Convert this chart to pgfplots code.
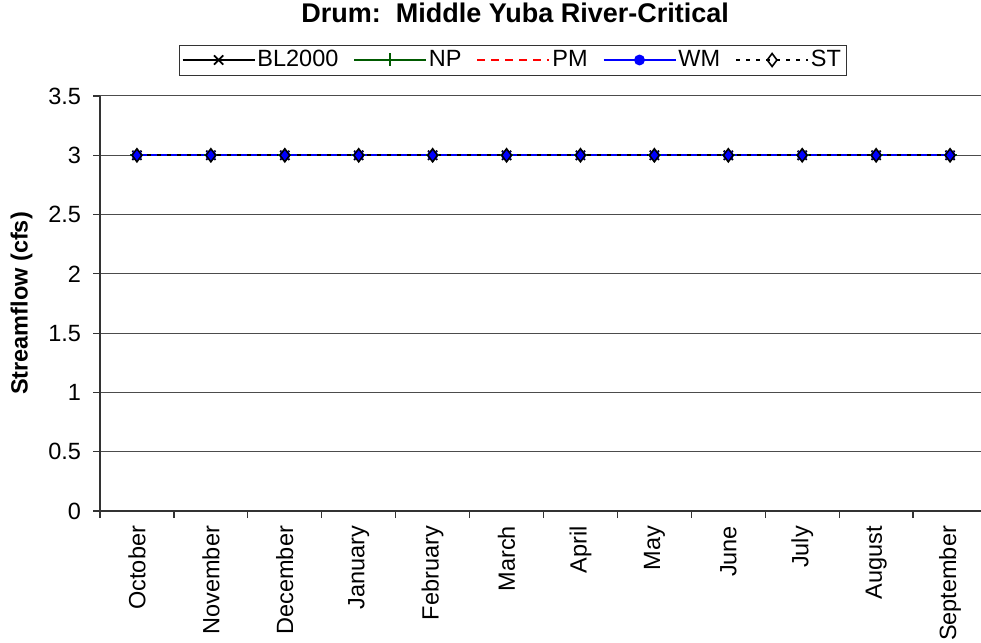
\documentclass[border=0pt]{standalone}
\usepackage{pgfplots}
\pgfplotsset{compat=1.18}
\usepackage{fontspec}
\setmainfont{Liberation Sans}
\definecolor{npgreen}{RGB}{0,90,0}
\begin{document}
\fontsize{23.5bp}{27bp}\selectfont
\begin{tikzpicture}
\useasboundingbox (0bp,0bp) rectangle (981bp,643bp);
\begin{axis}[
  scale only axis, width=887bp, height=415bp,
  at={(100bp,132bp)}, anchor=south west,
  xmin=0, xmax=12, ymin=0, ymax=3.5,
  axis x line*=bottom, axis y line*=left,
  axis line style={black!80, line width=1.2bp},
  ytick={0,0.5,...,3.5},
  yticklabels={0,0.5,1,1.5,2,2.5,3,3.5},
  ymajorgrids, grid style={black!70, line width=1bp},
  tick align=outside, major tick length=7bp, minor tick length=7bp,
  tick style={black!80, line width=1.2bp},
  xtick={0.5,1.5,...,11.5},
  xticklabels={October,November,December,January,February,March,April,May,June,July,August,September},
  major x tick style={draw=none},
  minor xtick={0,1,...,12},
  x tick label style={rotate=90, anchor=east, font=\fontsize{23.5bp}{27bp}\selectfont},
  y tick label style={font=\fontsize{23.5bp}{27bp}\selectfont, xshift=-4bp},
  /pgf/number format/assume math mode=true,
  ylabel={\bfseries Streamflow (cfs)},
  ylabel style={font=\fontsize{23.5bp}{27bp}\selectfont},
  title={\bfseries Drum:\ \ Middle Yuba River-Critical},
  title style={font=\fontsize{27bp}{30bp}\selectfont, at={(axis description cs:0.468,1)}, yshift=68bp, anchor=base},
  legend columns=5,
  legend style={at={(axis description cs:0.465,1)}, anchor=center, yshift=36bp,
    draw=black!80, font=\fontsize{23.5bp}{27bp}\selectfont,
    inner sep=3bp, nodes={inner sep=2bp},
    /tikz/every even column/.append style={column sep=13bp}},
  legend image code/.code={\draw[mark repeat=2,mark phase=2] plot coordinates {(0bp,0bp)(36bp,0bp)(72bp,0bp)};},
]
\addplot[black, line width=1.5bp, mark=x, mark size=6.5bp, mark options={line width=1.8bp}] coordinates {(0.5,3)(1.5,3)(2.5,3)(3.5,3)(4.5,3)(5.5,3)(6.5,3)(7.5,3)(8.5,3)(9.5,3)(10.5,3)(11.5,3)};
\addlegendentry{BL2000}
\addplot[npgreen, line width=1.5bp, mark=+, mark size=6.5bp, mark options={line width=1.8bp}] coordinates {(0.5,3)(1.5,3)(2.5,3)(3.5,3)(4.5,3)(5.5,3)(6.5,3)(7.5,3)(8.5,3)(9.5,3)(10.5,3)(11.5,3)};
\addlegendentry{NP}
\addplot[red, line width=1.8bp, dash pattern=on 8bp off 6bp] coordinates {(0.5,3)(1.5,3)(2.5,3)(3.5,3)(4.5,3)(5.5,3)(6.5,3)(7.5,3)(8.5,3)(9.5,3)(10.5,3)(11.5,3)};
\addlegendentry{PM}
\addplot[blue, line width=1.8bp, mark=*, mark size=4.5bp, mark options={fill=blue, draw=blue}] coordinates {(0.5,3)(1.5,3)(2.5,3)(3.5,3)(4.5,3)(5.5,3)(6.5,3)(7.5,3)(8.5,3)(9.5,3)(10.5,3)(11.5,3)};
\addlegendentry{WM}
\addplot[black, line width=1.8bp, dash pattern=on 4bp off 6bp, mark=diamond, mark size=6.5bp, mark options={solid, line width=1.6bp}] coordinates {(0.5,3)(1.5,3)(2.5,3)(3.5,3)(4.5,3)(5.5,3)(6.5,3)(7.5,3)(8.5,3)(9.5,3)(10.5,3)(11.5,3)};
\addlegendentry{ST}
\end{axis}
\end{tikzpicture}
\end{document}
